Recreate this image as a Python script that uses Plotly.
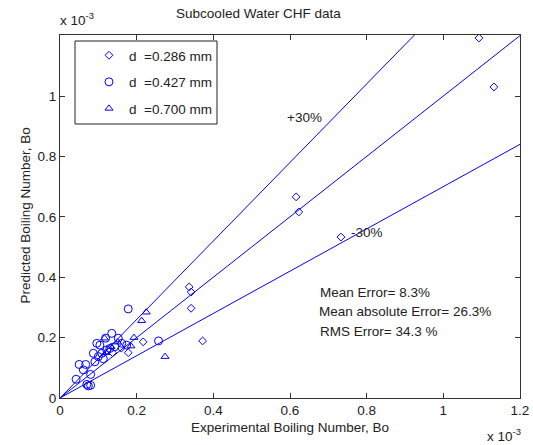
import plotly.graph_objects as go

# values in units of 1e-3
d286_x = [1.093, 1.132, 0.616, 0.623, 0.733, 0.337, 0.342, 0.342, 0.372, 0.217, 0.178, 0.137, 0.160]
d286_y = [1.192, 1.030, 0.666, 0.616, 0.533, 0.368, 0.351, 0.297, 0.189, 0.186, 0.150, 0.150, 0.165]

d427_x = [0.042, 0.050, 0.067, 0.080, 0.070, 0.074, 0.080, 0.087, 0.096, 0.104, 0.119, 0.135, 0.152,
          0.091, 0.100, 0.109, 0.122, 0.130, 0.143, 0.161, 0.174, 0.061, 0.178, 0.257, 0.113]
d427_y = [0.062, 0.111, 0.111, 0.078, 0.045, 0.040, 0.042, 0.148, 0.181, 0.175, 0.198, 0.214, 0.198,
          0.120, 0.137, 0.148, 0.159, 0.164, 0.170, 0.181, 0.175, 0.093, 0.295, 0.189, 0.130]

d700_x = [0.225, 0.213, 0.274, 0.193, 0.185, 0.116, 0.133, 0.150, 0.120]
d700_y = [0.284, 0.256, 0.137, 0.200, 0.172, 0.198, 0.170, 0.185, 0.150]

line_x = [0.0, 1.2]
factors = [1.0, 1.3, 0.7]

x_ticks = [0, 0.2, 0.4, 0.6, 0.8, 1.0, 1.2]
x_tick_text = ["0", "0.2", "0.4", "0.6", "0.8", "1", "1.2"]
y_ticks = [0, 0.2, 0.4, 0.6, 0.8, 1.0]
y_tick_text = ["0", "0.2", "0.4", "0.6", "0.8", "1"]

BLUE = "#0000FF"
FONT = "Liberation Sans, Arial, sans-serif"
TXT = "#222222"
FS = 13.5

W, H = 533, 445
ml, mr, mt, mb = 60, 13, 35, 47
pw, ph = W - ml - mr, H - mt - mb
def px(xp): return (xp - ml) / pw
def py(yp): return (H - mb - yp) / ph

fig = go.Figure()

for f in factors:
    fig.add_trace(go.Scatter(x=line_x, y=[f * v for v in line_x], mode="lines",
                             line=dict(color=BLUE, width=1), showlegend=False, hoverinfo="skip"))

fig.add_trace(go.Scatter(x=d286_x, y=d286_y, mode="markers", name="d  =0.286 mm", legendgroup="a",
                         marker=dict(symbol="diamond-open", size=6, color=BLUE, line=dict(width=1))))
fig.add_trace(go.Scatter(x=d427_x, y=d427_y, mode="markers", name="d  =0.427 mm", legendgroup="b",
                         marker=dict(symbol="circle-open", size=8, color=BLUE, line=dict(width=1))))
fig.add_trace(go.Scatter(x=d700_x, y=d700_y, mode="markers", name="d  =0.700 mm", legendgroup="c",
                         marker=dict(symbol="triangle-up-open", size=7, color=BLUE, line=dict(width=1))))

axis_common = dict(showgrid=False, zeroline=False, showline=True, mirror="allticks",
                   linecolor="#333333", linewidth=1, ticks="inside", ticklen=5,
                   tickcolor="#333333", tickfont=dict(family=FONT, size=FS, color=TXT),
                   automargin=False)

fig.update_xaxes(range=[0, 1.2], tickvals=x_ticks, ticktext=x_tick_text, **axis_common)
fig.update_yaxes(range=[0, 1.202], tickvals=y_ticks, ticktext=y_tick_text, **axis_common)

annots = [
    dict(x=0.587, y=0.93, text="+30%", xref="x", yref="y", xanchor="left"),
    dict(x=0.753, y=0.548, text="-30%", xref="x", yref="y", xanchor="left"),
    dict(x=0.673, y=0.351, text="Mean Error= 8.3%", xref="x", yref="y", xanchor="left"),
    dict(x=0.670, y=0.288, text="Mean absolute Error= 26.3%", xref="x", yref="y", xanchor="left"),
    dict(x=0.673, y=0.219, text="RMS Error= 34.3 %", xref="x", yref="y", xanchor="left"),
    dict(x=px(58), y=py(19), text="x 10<sup>-3</sup>", xref="paper", yref="paper", xanchor="left"),
    dict(x=px(485), y=py(435), text="x 10<sup>-3</sup>", xref="paper", yref="paper", xanchor="left"),
    dict(x=px(290), y=py(427), text="Experimental Boiling Number, Bo", xref="paper", yref="paper"),
    dict(x=px(15), y=py(216), text="Predicted Boiling Number, Bo", xref="paper", yref="paper", textangle=-90),
]
for a in annots:
    a["showarrow"] = False
    a.setdefault("yanchor", "middle")
    a["font"] = dict(family=FONT, size=FS, color=TXT)
fig.update_layout(annotations=annots)

# legend frame
fig.add_shape(type="rect", xref="paper", yref="paper", x0=px(75), x1=px(217), y0=py(124), y1=py(41),
              line=dict(color="#222222", width=1), fillcolor="rgba(0,0,0,0)", layer="above")

fig.update_layout(
    width=W, height=H,
    margin=dict(l=ml, r=mr, t=mt, b=mb, pad=0, autoexpand=False),
    paper_bgcolor="white", plot_bgcolor="white",
    title=dict(text="Subcooled Water CHF data", x=px(283), xanchor="center", y=1 - 13 / H, yanchor="middle",
               font=dict(family=FONT, size=FS, color=TXT)),
    legend=dict(x=px(89), y=py(40), xanchor="left", yanchor="top", bgcolor="rgba(0,0,0,0)",
                borderwidth=0, tracegroupgap=6,
                font=dict(family=FONT, size=FS, color=TXT)),
    showlegend=True,
)

fig.write_html("out.html")
